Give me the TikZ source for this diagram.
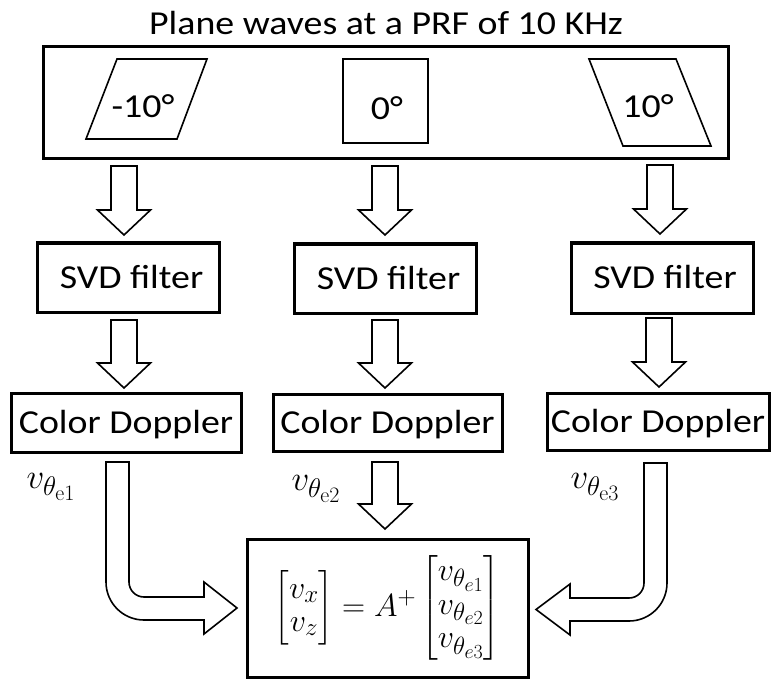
\RequirePackage{fix-cm}
\documentclass[tikz,border=0pt]{standalone}
\usepackage[no-math]{fontspec}
\usepackage{amsmath}
\setmainfont[FakeStretch=1.13]{Carlito}
\DeclareMathSizes{32}{32}{25}{20}
\DeclareMathSizes{35}{35}{27}{22}
\usetikzlibrary{calc}
\tikzset{
  frame/.style={draw, line width=3pt, inner sep=0pt},
  box/.style={frame, text height=21pt, text depth=0pt,
              font=\fontsize{33.5}{40}\selectfont},
  barrow/.style={draw, line width=1.6pt, fill=white, line join=miter},
  wave/.style={draw, line width=1.6pt, line join=miter},
  lbl/.style={font=\fontsize{33.5}{40}\selectfont, inner sep=0pt},
  mlbl/.style={font=\fontsize{35}{40}\selectfont, inner sep=0pt},
}
\newcommand\blockdown[2]{%
  \draw[barrow] let \p1=(#1), \p2=(#2) in
    (\x1-13pt,\y1) -- (\x1+13pt,\y1) -- (\x1+13pt,\y2+25pt) -- (\x1+26.5pt,\y2+25pt)
    -- (\x1,\y2) -- (\x1-26.5pt,\y2+25pt) -- (\x1-13pt,\y2+25pt) -- cycle;}
\begin{document}
\begin{tikzpicture}[x=1pt,y=-1pt]
\useasboundingbox (0,0) rectangle (771,679);

% title
\node[lbl, anchor=base] (title) at (386,35) {Plane waves at a PRF of 10 KHz};

% plane-wave box
\node[frame, minimum width=685pt, minimum height=112pt] (pw) at (385.5,103) {};
\draw[wave] (117,59) -- (207,59) -- (177,139) -- (86,139) -- cycle;
\draw[wave] (343,59) rectangle (428,143);
\draw[wave] (589,59) -- (676,59) -- (711,146) -- (623,146) -- cycle;
\node[lbl, anchor=base] (ang1) at (143,118) {-10°};
\node[lbl, anchor=base] (ang2) at (387,120) {0°};
\node[lbl, anchor=base] (ang3) at (648,118) {10°};

% SVD filters
\node[box, minimum width=182pt, minimum height=69pt] (svd1) at (128,277.5) {\hspace*{7pt}SVD filter};
\node[box, minimum width=182pt, minimum height=69pt] (svd2) at (385,278.5) {\hspace*{7pt}SVD filter};
\node[box, minimum width=182pt, minimum height=70pt] (svd3) at (662,278) {\hspace*{6pt}SVD filter};

% Color Doppler
\node[box, minimum width=230pt, minimum height=59pt] (cd1) at (126,422.5) {Color Doppler};
\node[box, minimum width=229pt, minimum height=57pt] (cd2) at (387.5,422.5) {Color Doppler};
\node[box, minimum width=222pt, minimum height=57pt] (cd3) at (658,421.5) {Color Doppler};

% result box
\node[frame, minimum width=281pt, minimum height=138pt,
      font=\fontsize{32}{33}\selectfont] (res) at (387.5,608)
  {$\begin{bmatrix} v_x \\ v_z \end{bmatrix} = A^{+}
    \begin{bmatrix} v_{\theta_{e1}} \\ v_{\theta_{e2}} \\ v_{\theta_{e3}} \end{bmatrix}$};

% velocity labels
\node[mlbl] (l1) at (51,487) {$v_{\theta_{\mathrm{e1}}}$};
\node[mlbl] (l2) at (316,489) {$v_{\theta_{\mathrm{e2}}}$};
\node[mlbl] (l3) at (595,487) {$v_{\theta_{\mathrm{e3}}}$};

% arrow end points
\coordinate (a1t) at (124,166);   \coordinate (a1b) at (124,235);
\coordinate (a2t) at (385,166);   \coordinate (a2b) at (385,235);
\coordinate (a3t) at (660,165);   \coordinate (a3b) at (660,234);
\coordinate (b1t) at (124,320);   \coordinate (b1b) at (124,388);
\coordinate (b2t) at (385,320);   \coordinate (b2b) at (385,388);
\coordinate (b3t) at (659,318);   \coordinate (b3b) at (659,387);
\coordinate (c2t) at (385,462);   \coordinate (c2b) at (385,529);

\blockdown{a1t}{a1b}
\blockdown{a2t}{a2b}
\blockdown{a3t}{a3b}
\blockdown{b1t}{b1b}
\blockdown{b2t}{b2b}
\blockdown{b3t}{b3b}
\blockdown{c2t}{c2b}

% bent arrows into the result box
\draw[barrow] (106,462) -- (129,462) -- (129,582)
  .. controls (129,590.3) and (135.7,597) .. (144,597)
  -- (204,597) -- (204,582) -- (237,608) -- (204,634) -- (204,620) -- (144,620)
  .. controls (123,620) and (106,603) .. (106,582) -- cycle;
\draw[barrow] (644,463) -- (667,463) -- (667,583)
  .. controls (667,604) and (650,621) .. (629,621)
  -- (570,621) -- (570,635) -- (536,609.5) -- (570,584) -- (570,598) -- (629,598)
  .. controls (637.3,598) and (644,591.3) .. (644,583) -- cycle;
\end{tikzpicture}
\end{document}
